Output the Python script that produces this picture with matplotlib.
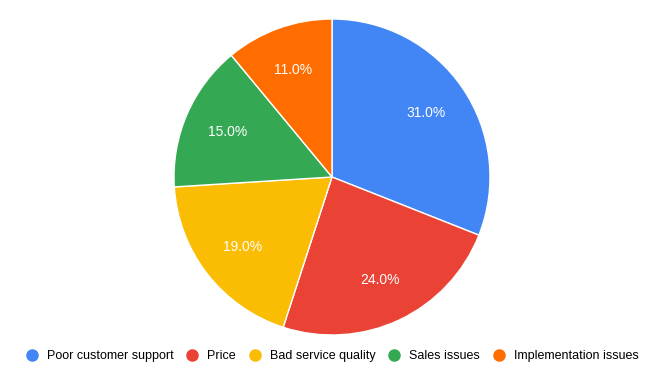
import matplotlib
matplotlib.use("Agg")
import matplotlib.pyplot as plt
from matplotlib.lines import Line2D

plt.rcParams["font.family"] = ["Liberation Sans", "DejaVu Sans"]

labels = ["Poor customer support", "Price", "Bad service quality", "Sales issues", "Implementation issues"]
values = [31.0, 24.0, 19.0, 15.0, 11.0]
colors = ["#4285F4", "#EA4335", "#FBBC04", "#34A853", "#FF6D01"]

W, H = 664, 382
fig = plt.figure(figsize=(W / 100, H / 100), dpi=100)
cx, cy, r = 332, 177, 158
ax = fig.add_axes([(cx - r) / W, (H - cy - r) / H, 2 * r / W, 2 * r / H])

wedges, texts, autotexts = ax.pie(
    values, colors=colors, startangle=90, counterclock=False,
    autopct="%.1f%%", pctdistance=0.72,
    wedgeprops=dict(edgecolor="white", linewidth=1),
    textprops=dict(color="white", fontsize=10),
)
ax.set_xlim(-1, 1)
ax.set_ylim(-1, 1)
ax.set_aspect("equal")

handles = [Line2D([], [], marker="o", linestyle="", markersize=8,
                  markerfacecolor=c, markeredgecolor=c) for c in colors]
fig.legend(handles, labels, loc="center", bbox_to_anchor=(0.5, (H - 356) / H),
           ncol=5, frameon=False, fontsize=9, handletextpad=0.7,
           columnspacing=1.0, handlelength=1.0)

fig.savefig("out.png", dpi=100)
